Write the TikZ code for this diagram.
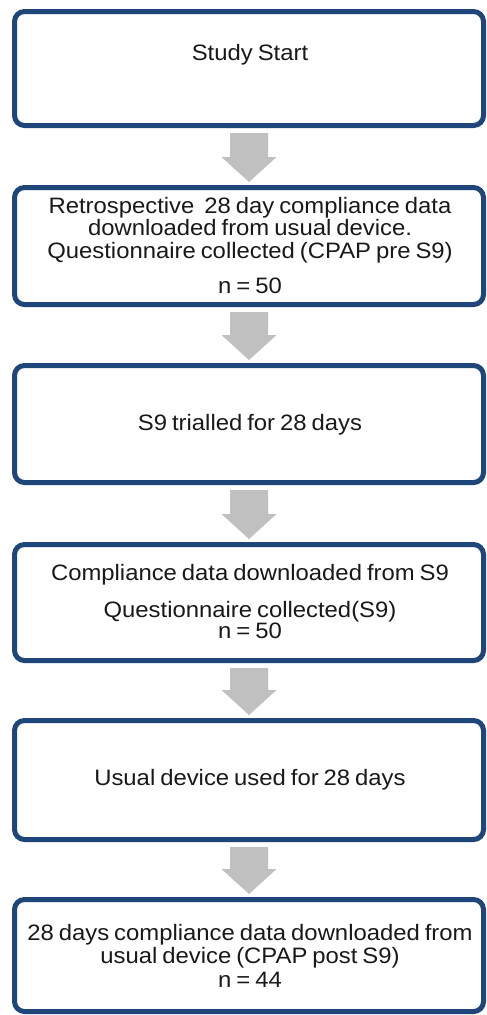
\documentclass[tikz,border=0pt]{standalone}
\usepackage{fontspec}
\setmainfont{Liberation Sans}[FakeStretch=1.07, WordSpace=0.75]
\usetikzlibrary{shadows,calc}
\definecolor{boxblue}{RGB}{31,70,122}
\definecolor{arrgray}{RGB}{192,192,192}
\newcommand{\blkarrow}[2]{%
  \fill[arrgray] ($(#1.south)+(-19,7.5)$) -- ($(#1.south)+(19,7.5)$)
    -- ($(#2.north)+(19,-30.5)$) -- ($(#2.north)+(27.5,-30.5)$)
    -- ($(#2.north)+(0,-5.5)$) -- ($(#2.north)+(-27.5,-30.5)$)
    -- ($(#2.north)+(-19,-30.5)$) -- cycle;}
\begin{document}
\begin{tikzpicture}[x=1pt,y=-1pt,
  stepbox/.style={draw=boxblue, line width=5pt, rounded corners=10pt, fill=white,
    minimum width=469pt, inner sep=0pt, outer sep=0pt,
    drop shadow={shadow xshift=1.5pt, shadow yshift=-2pt, fill=black, opacity=0.25}},
  lbl/.style={anchor=base, inner sep=0pt, text=black!90, font=\fontsize{22.3}{24}\selectfont}]
\useasboundingbox (0,0) rectangle (487,1015);
\fill[white] (0,0) rectangle (487,1015);
% boxes
\node[stepbox, minimum height=114pt] (b1) at (249,68.5) {};
\node[stepbox, minimum height=117pt] (b2) at (249,246) {};
\node[stepbox, minimum height=117pt] (b3) at (249,424) {};
\node[stepbox, minimum height=116pt] (b4) at (249,602.5) {};
\node[stepbox, minimum height=119pt] (b5) at (249,780) {};
\node[stepbox, minimum height=112pt] (b6) at (249,955.5) {};
% arrows
\blkarrow{b1}{b2}
\blkarrow{b2}{b3}
\blkarrow{b3}{b4}
\blkarrow{b4}{b5}
\blkarrow{b5}{b6}
% labels
\node[lbl] (t1) at (250,60) {Study Start};
\node[lbl] (t2a) at (250,213) {Retrospective \ 28 day compliance data};
\node[lbl] (t2b) at (250,235) {downloaded from usual device.};
\node[lbl] (t2c) at (250,258) {Questionnaire collected (CPAP pre S9)};
\node[lbl] (t2d) at (250,293) {n = 50};
\node[lbl] (t3) at (250,430) {S9 trialled for 28 days};
\node[lbl] (t4a) at (250,580) {Compliance data downloaded from S9};
\node[lbl] (t4b) at (250,617) {Questionnaire collected(S9)};
\node[lbl] (t4c) at (250,638) {n = 50};
\node[lbl] (t5) at (250,785) {Usual device used for 28 days};
\node[lbl] (t6a) at (250,940) {28 days compliance data downloaded from};
\node[lbl] (t6b) at (250,963) {usual device (CPAP post S9)};
\node[lbl] (t6c) at (250,987) {n = 44};
\end{tikzpicture}
\end{document}
